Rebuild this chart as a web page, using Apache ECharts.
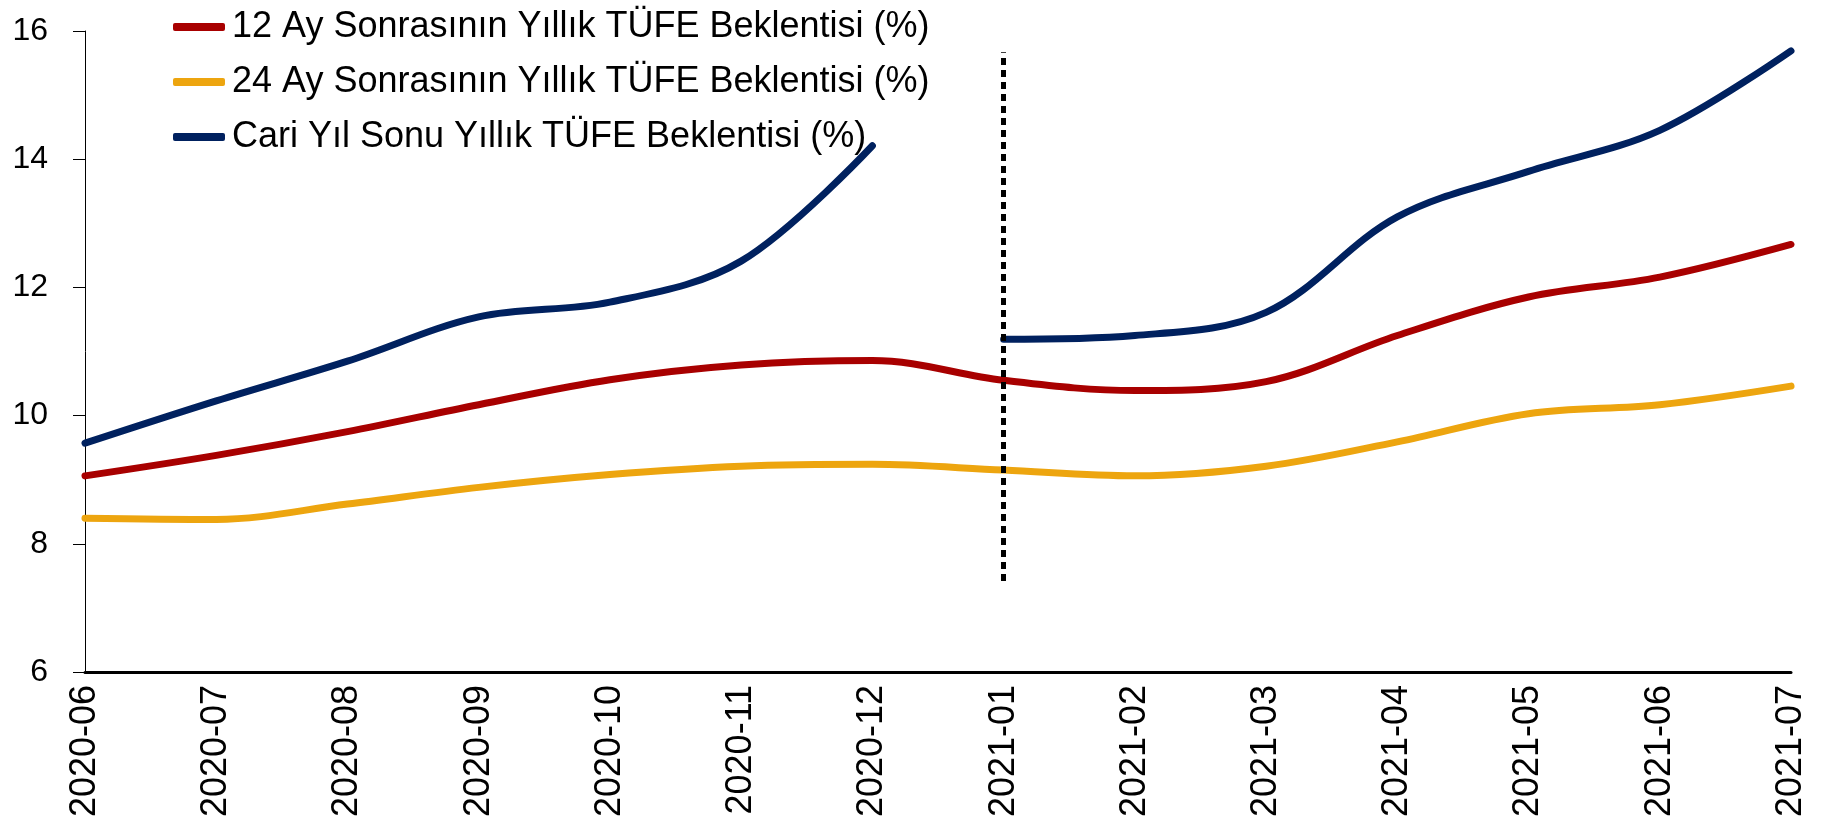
<!DOCTYPE html>
<html>
<head>
<meta charset="utf-8">
<script src="https://cdn.jsdelivr.net/npm/echarts@6/dist/echarts.min.js"></script>
<style>html,body{margin:0;padding:0;background:#fff;}#c{width:1830px;height:824px;}</style>
</head>
<body>
<div id="c"></div>
<script>
const categories = ['2020-06','2020-07','2020-08','2020-09','2020-10','2020-11','2020-12','2021-01','2021-02','2021-03','2021-04','2021-05','2021-06','2021-07'];
const months12 = [9.06, 9.38, 9.75, 10.17, 10.56, 10.79, 10.86, 10.55, 10.39, 10.53, 11.25, 11.85, 12.16, 12.67];
const months24 = [8.40, 8.38, 8.62, 8.88, 9.08, 9.21, 9.24, 9.15, 9.06, 9.21, 9.59, 10.03, 10.17, 10.46];
const currentYear2020 = [9.57, 10.23, 10.85, 11.54, 11.77, 12.41, 14.21, null, null, null, null, null, null, null];
const currentYear2021 = [null, null, null, null, null, null, null, 11.19, 11.25, 11.61, 13.10, 13.81, 14.45, 15.69];
const yTicks = {min: 6, max: 16, interval: 2};
const dividerCategory = '2021-01';
const dividerRange = [7.42, 15.67];

const names = ['12 Ay Sonrasının Yıllık TÜFE Beklentisi (%)', '24 Ay Sonrasının Yıllık TÜFE Beklentisi (%)', 'Cari Yıl Sonu Yıllık TÜFE Beklentisi (%)'];
const colors = ['#A80000', '#EDA50F', '#00215F'];
const font = 'Liberation Sans';

const chart = echarts.init(document.getElementById('c'));
const lineSeries = (name, data, color, extra) => Object.assign({
  name, type: 'line', data, smooth: 0.35, symbol: 'none',
  lineStyle: {color, width: 7, cap: 'round'}, itemStyle: {color},
  connectNulls: false, z: 3
}, extra || {});

chart.setOption({
  animation: false,
  backgroundColor: '#fff',
  grid: {left: 85, right: 39, top: 31, bottom: 152},
  legend: {
    orient: 'vertical', left: 168, top: 4, itemGap: 19,
    itemWidth: 52, itemHeight: 8, icon: 'roundRect',
    data: names,
    textStyle: {fontFamily: font, fontSize: 36, color: '#000', padding: [0,0,0,2]}
  },
  xAxis: {
    type: 'category', data: categories, boundaryGap: false,
    axisLine: {lineStyle: {color: '#000', width: 3}},
    axisTick: {show: false},
    axisLabel: {rotate: 90, color: '#000', fontFamily: font, fontSize: 36, margin: 13, interval: 0}
  },
  yAxis: {
    type: 'value', min: yTicks.min, max: yTicks.max, interval: yTicks.interval,
    axisLine: {show: true, lineStyle: {color: '#000', width: 1}},
    axisTick: {show: true, length: 12, lineStyle: {color: '#000'}},
    splitLine: {show: false},
    axisLabel: {color: '#000', fontFamily: font, fontSize: 32, margin: 37}
  },
  series: [
    lineSeries(names[0], months12, colors[0]),
    lineSeries(names[1], months24, colors[1]),
    lineSeries(names[2], currentYear2020, colors[2], {
      markLine: {
        silent: true, symbol: 'none', label: {show: false},
        lineStyle: {color: '#000', width: 5, type: [7, 5]},
        data: [[{coord: [dividerCategory, dividerRange[0]]}, {coord: [dividerCategory, dividerRange[1]]}]]
      }
    }),
    lineSeries(names[2], currentYear2021, colors[2])
  ]
});
</script>
</body>
</html>
